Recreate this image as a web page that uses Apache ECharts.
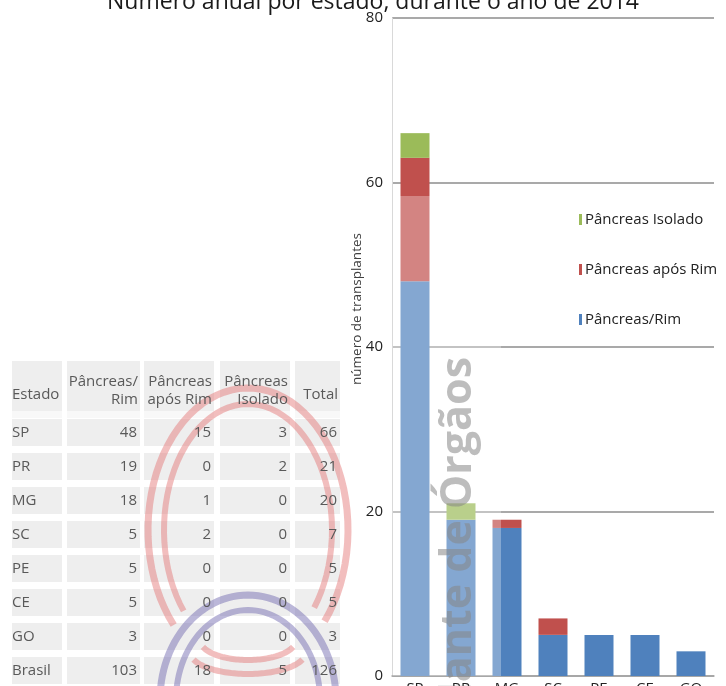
<!DOCTYPE html>
<html>
<head>
<meta charset="utf-8">
<script src="https://cdn.jsdelivr.net/npm/echarts@6/dist/echarts.min.js"></script>
<style>html,body{margin:0;padding:0;background:#fff;}#chart{width:726px;height:686px;}</style>
</head>
<body>
<div id="chart"></div>
<script>
// ---- data ----
const titleText = 'Número anual por estado, durante o ano de 2014';
const estados = ['SP', 'PR', 'MG', 'SC', 'PE', 'CE', 'GO', 'Brasil'];
const pancreasRim = [48, 19, 18, 5, 5, 5, 3, 103];
const aposRim = [15, 0, 1, 2, 0, 0, 0, 18];
const isolado = [3, 2, 0, 0, 0, 0, 0, 5];
const totais = [66, 21, 20, 7, 5, 5, 3, 126];
const headers = [['Estado'], ['Pâncreas/', 'Rim'], ['Pâncreas', 'após Rim'], ['Pâncreas', 'Isolado'], ['Total']];
const seriesNames = ['Pâncreas/Rim', 'Pâncreas após Rim', 'Pâncreas Isolado'];
const yTicks = [0, 20, 40, 60, 80];
const yName = 'número de transplantes';
const watermark = 'Transplante de Órgãos';

// chart categories = states without the Brasil total row
const nStates = 7;
const categories = estados.slice(0, nStates);

const FONT = '"Open Sans", sans-serif';
const chart = echarts.init(document.getElementById('chart'));

// ---- table as graphic elements ----
const colX = [[12, 62], [67, 140], [144, 214], [220, 290], [295, 340]];
const graphics = [];
const cellFill = '#eeeeee';
const txtFill = '#595959';
colX.forEach(function (c, ci) {
  graphics.push({ type: 'rect', z: 1, shape: { x: c[0], y: 361, width: c[1] - c[0], height: 50 }, style: { fill: cellFill } });
  graphics.push({ type: 'rect', z: 1, shape: { x: c[0], y: 411, width: c[1] - c[0], height: 7 }, style: { fill: '#f8f8f8' } });
  for (let r = 0; r < estados.length; r++) {
    graphics.push({ type: 'rect', z: 1, shape: { x: c[0], y: 419 + r * 34, width: c[1] - c[0], height: 27 }, style: { fill: cellFill } });
  }
});
// watermark arcs (decoration)
function ellipsePts(cx, cy, rx, ry, a0, a1) {
  const pts = [];
  const n = 60;
  for (let i = 0; i <= n; i++) {
    const t = (a0 + (a1 - a0) * i / n) * Math.PI / 180;
    pts.push([cx + rx * Math.cos(t), cy - ry * Math.sin(t)]);
  }
  return pts;
}
const redArc = 'rgba(226,110,110,0.45)';
const purpleArc = 'rgba(105,95,170,0.45)';
[
  [248, 530, 100, 142, -40, 222, redArc, 7],
  [248, 530, 84, 126, -38, 220, redArc, 6],
  [248, 700, 88, 105, -10, 190, purpleArc, 7],
  [248, 700, 72, 90, -10, 190, purpleArc, 6],
  [248, 640, 48, 20, 200, 340, redArc, 6],
  [248, 652, 58, 22, 200, 340, redArc, 6]
].forEach(function (a) {
  graphics.push({ type: 'polyline', z: 2, silent: true, shape: { points: ellipsePts(a[0], a[1], a[2], a[3], a[4], a[5]) },
    style: { stroke: a[6], lineWidth: a[7], fill: null } });
});
// header text
headers.forEach(function (h, ci) {
  const right = colX[ci][1] - 2;
  if (ci === 0) {
    graphics.push({ type: 'text', z: 3, x: colX[0][0], y: 395, style: { text: h[0], font: '15px ' + FONT, fill: txtFill, align: 'left', verticalAlign: 'middle' } });
  } else if (h.length === 1) {
    graphics.push({ type: 'text', z: 3, x: right, y: 395, style: { text: h[0], font: '15px ' + FONT, fill: txtFill, align: 'right', verticalAlign: 'middle' } });
  } else {
    graphics.push({ type: 'text', z: 3, x: right, y: 382, style: { text: h[0], font: '15px ' + FONT, fill: txtFill, align: 'right', verticalAlign: 'middle' } });
    graphics.push({ type: 'text', z: 3, x: right, y: 400, style: { text: h[1], font: '15px ' + FONT, fill: txtFill, align: 'right', verticalAlign: 'middle' } });
  }
});
const cols = [pancreasRim, aposRim, isolado, totais];
estados.forEach(function (e, r) {
  const cy = 433 + r * 34;
  graphics.push({ type: 'text', z: 3, x: colX[0][0], y: cy, style: { text: e, font: '15px ' + FONT, fill: txtFill, align: 'left', verticalAlign: 'middle' } });
  cols.forEach(function (col, k) {
    graphics.push({ type: 'text', z: 3, x: colX[k + 1][1] - 3, y: cy, style: { text: String(col[r]), font: '15px ' + FONT, fill: txtFill, align: 'right', verticalAlign: 'middle' } });
  });
});
// y axis name
graphics.push({ type: 'text', z: 3, x: 357, y: 309, rotation: Math.PI / 2, style: { text: yName, font: '13.5px ' + FONT, fill: '#404040', align: 'center', verticalAlign: 'middle' } });
// washed-out overlay from the scanned watermark
graphics.push({ type: 'rect', z: 50, silent: true, shape: { x: 393, y: 196, width: 108, height: 480 }, style: { fill: 'rgba(255,255,255,0.3)' } });
// watermark text
graphics.push({ type: 'text', z: 60, silent: true, x: 459, y: 357, rotation: Math.PI / 2,
  style: { text: watermark, font: 'bold 43px ' + FONT, fill: 'rgba(135,135,135,0.55)', align: 'right', verticalAlign: 'middle' } });

const colors = ['#4F81BD', '#C0504D', '#9BBB59'];
const seriesData = [pancreasRim.slice(0, nStates), aposRim.slice(0, nStates), isolado.slice(0, nStates)];

chart.setOption({
  animation: false,
  title: {
    text: titleText, left: 368, top: -14, textAlign: 'center',
    textStyle: { fontFamily: FONT, fontSize: 23, fontWeight: 'normal', color: '#1a1a1a' }
  },
  legend: {
    data: [seriesNames[2], seriesNames[1], seriesNames[0]],
    orient: 'vertical', left: 574, top: 207, itemGap: 35,
    icon: 'rect', itemWidth: 3, itemHeight: 11,
    textStyle: { fontFamily: FONT, fontSize: 15, color: '#222', padding: [0, 0, 0, -2] },
    selectedMode: false
  },
  grid: { left: 392, right: 12, top: 18, bottom: 10, containLabel: false, outerBoundsMode: 'none' },
  xAxis: {
    type: 'category', data: categories,
    axisTick: { show: false },
    axisLine: { lineStyle: { color: '#a6a6a6', width: 1.5 } },
    axisLabel: { fontFamily: FONT, fontSize: 15, color: '#222', margin: 5 }
  },
  yAxis: {
    type: 'value', min: yTicks[0], max: yTicks[yTicks.length - 1], interval: yTicks[1] - yTicks[0],
    axisLine: { show: true, lineStyle: { color: '#d9d9d9', width: 1 } },
    axisTick: { show: false },
    axisLabel: { fontFamily: FONT, fontSize: 15, color: '#222', margin: 9 },
    splitLine: { lineStyle: { color: '#8c8c8c', width: 1.5 } }
  },
  series: seriesNames.map(function (n, i) {
    return { name: n, type: 'bar', stack: 'total', data: seriesData[i], barWidth: 29,
      itemStyle: { color: colors[i] } };
  }),
  graphic: graphics
});
</script>
</body>
</html>
